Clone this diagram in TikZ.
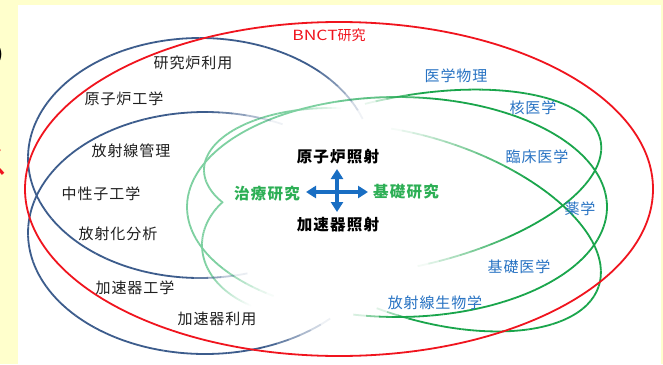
\documentclass[tikz,border=0pt]{standalone}
\usepackage{fontspec}
\setmainfont{Noto Sans CJK JP}
\newfontfamily\jpls{Noto Sans CJK JP}[LetterSpace=6]
\newfontfamily\jplsb{Noto Sans CJK JP}[LetterSpace=8]
\usetikzlibrary{arrows.meta}
\definecolor{bgyellow}{RGB}{255,255,204}
\definecolor{cred}{RGB}{240,20,30}
\definecolor{cblue}{RGB}{60,92,140}
\definecolor{cgreen}{RGB}{25,165,75}
\definecolor{cpale}{RGB}{125,208,160}
\definecolor{tblue}{RGB}{40,115,195}
\definecolor{tgreen}{RGB}{45,175,85}
\definecolor{carrow}{RGB}{25,110,195}
% faded elliptic arc: #1 colour, #2 centre, #3 rx, #4 ry, #5 rotation, #6 start, #7 end, #8 fade at start (deg), #9 fade at end (deg)
\newcommand\farc[9]{%
  \pgfmathsetmacro\FAst{(#7-#6)/60}%
  \foreach \i in {0,...,59}{%
    \pgfmathsetmacro\FAa{#6+\i*\FAst}%
    \pgfmathsetmacro\FAo{min(1,min(abs((\i+0.5)*\FAst)/#8, abs((59.5-\i)*\FAst)/#9))}%
    \draw[curve, #1, draw opacity=\FAo, shift={#2}, rotate=#5] (\FAa:#3pt and #4pt) arc[start angle=\FAa, delta angle=\FAst, x radius=#3pt, y radius=#4pt];
  }%
}
\tikzset{
  curve/.style={line width=1.8pt, line cap=butt},
  lbl/.style={font=\jpls\fontsize{15}{15}\selectfont, text=black!88, inner sep=0pt},
  blbl/.style={font=\jpls\fontsize{15}{15}\selectfont, text=tblue, inner sep=0pt},
  ctr/.style={font=\jplsb\fontsize{15.5}{15.5}\selectfont\bfseries, inner sep=0pt},
  arr/.style={carrow, line width=3.2pt, -{Triangle[width=12pt,length=10pt]}},
}
\begin{document}
\begin{tikzpicture}[x=1pt,y=1pt]
\useasboundingbox (0,0) rectangle (663,-364);
\fill[bgyellow] (0,0) rectangle (663,-364);
\fill[white] (18,-5) rectangle (661,-364);
% cut-off slide text at the left edge
\begin{scope}
  \clip (0,0) rectangle (18,-364);
  \node[anchor=east, inner sep=0pt, font=\fontsize{40}{40}\selectfont] (cutA) at (6,-55) {の};
  \node[anchor=east, inner sep=0pt, text=cred, font=\fontsize{36}{36}\selectfont] (cutB) at (9,-162) {ス};
\end{scope}
% green curves
\farc{cpale}{(397,-207)}{210}{110}{0}{85}{234}{15}{20}
\farc{cgreen}{(397,-207)}{210}{110}{0}{-102}{110}{10}{30}
\farc{cgreen}{(400,-183)}{205}{85}{12}{-90}{95}{30}{15}
\farc{cgreen}{(420,-228)}{188}{90}{-18}{108}{-95}{45}{12}
\farc{cpale}{(330,-170)}{126}{62}{0}{85}{212}{25}{0.01}
\farc{cpale}{(300,-245)}{98}{70}{0}{143}{240}{0.01}{35}
% blue curves
\farc{cblue}{(200,-158)}{172}{120}{0}{19}{286}{30}{20}
\farc{cblue}{(205,-233)}{177}{121}{0}{64}{315}{25}{25}
% red ellipse
\draw[curve, cred] (339,-189) ellipse[x radius=314pt, y radius=167pt];
% labels
\node[text=cred, inner sep=0pt, font=\fontsize{14}{14}\selectfont] (bnct) at (329,-35) {\scalebox{1.25}[1]{BNCT}研究};
\node[lbl] (n1) at (193,-63) {研究炉利用};
\node[lbl] (n2) at (124,-99) {原子炉工学};
\node[lbl] (n3) at (131,-151) {放射線管理};
\node[lbl] (n4) at (101,-194) {中性子工学};
\node[lbl] (n5) at (118,-234) {放射化分析};
\node[lbl] (n6) at (135,-288) {加速器工学};
\node[lbl] (n7) at (217,-319) {加速器利用};
\node[ctr] (c1) at (338,-157) {原子炉照射};
\node[ctr] (c2) at (338,-225) {加速器照射};
\node[ctr, text=tgreen] (c3) at (267,-194) {治療研究};
\node[ctr, text=tgreen] (c4) at (406,-192) {基礎研究};
\node[blbl] (m1) at (456,-76) {医学物理};
\node[blbl] (m2) at (533,-108) {核医学};
\node[blbl] (m3) at (537,-157) {臨床医学};
\node[blbl] (m4) at (580,-209) {薬学};
\node[blbl] (m5) at (519,-267) {基礎医学};
\node[blbl] (m6) at (435,-303) {放射線生物学};
% cross of arrows
\coordinate (ac) at (337,-192);
\coordinate (aL) at (306,-192);
\coordinate (aR) at (368,-192);
\coordinate (aU) at (337,-169);
\coordinate (aD) at (337,-212);
\draw[arr] (ac) -- (aL);
\draw[arr] (ac) -- (aR);
\draw[arr] (ac) -- (aU);
\draw[arr] (ac) -- (aD);
\end{tikzpicture}
\end{document}
